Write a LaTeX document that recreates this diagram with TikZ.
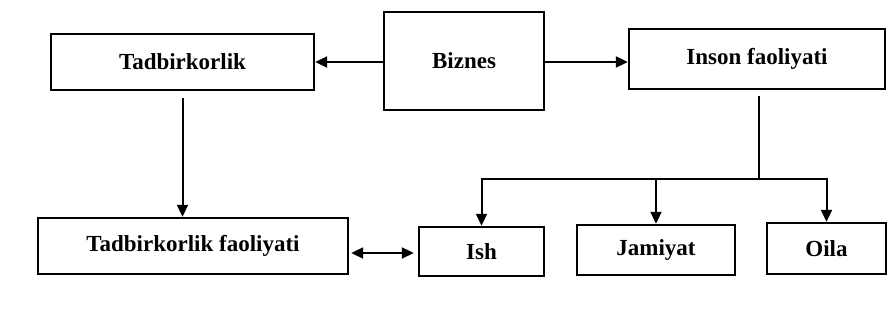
\documentclass[tikz,border=0pt]{standalone}
\usepackage{fontspec}
\setmainfont{Liberation Serif}
\usetikzlibrary{arrows.meta}
\tikzset{
  box/.style={draw=black, line width=2.4pt, fill=white, inner sep=0pt,
    font=\fontsize{23}{26}\selectfont\bfseries, text=black},
  conn/.style={line width=2pt, -{Triangle[length=12pt,width=11pt]}},
  dconn/.style={line width=2pt, {Triangle[length=12pt,width=11pt]}-{Triangle[length=12pt,width=11pt]}},
  plain/.style={line width=2pt}
}
\begin{document}
\begin{tikzpicture}[x=1pt,y=-1pt]
\useasboundingbox[fill=white] (0,0) rectangle (887,336);
\node[box, minimum width=263pt, minimum height=56pt] (tad) at (182.5,62) {Tadbirkorlik};
\node[box, minimum width=160pt, minimum height=98pt] (biz) at (464,61) {Biznes};
\node[box, minimum width=256pt, minimum height=60pt] (ins) at (757,59) {\raisebox{5pt}{Inson faoliyati}};
\node[box, minimum width=310pt, minimum height=56pt] (tf) at (193,246) {Tadbirkorlik faoliyati};
\node[box, minimum width=125pt, minimum height=49pt] (ish) at (481.5,251.5) {Ish};
\node[box, minimum width=158pt, minimum height=50pt] (jam) at (656,250) {Jamiyat};
\node[box, minimum width=119pt, minimum height=51pt] (oila) at (826.5,248.5) {Oila};
\coordinate (br) at (759,179);
\draw[conn] (biz.west |- tad.east) -- (tad.east);
\draw[conn] (biz.east |- 0,62) -- (ins.west |- 0,62);
\draw[conn, shorten <=7pt] (tad.south) -- (tad.south |- tf.north);
\draw[plain, shorten <=6pt] (ins.south -| br) -- (br);
\draw[conn] (br) -| (ish.north);
\draw[conn] (jam.north |- br) -- (jam.north);
\draw[conn] (br) -| (oila.north);
\draw[dconn, shorten <=2pt, shorten >=4pt] (tf.east |- 0,253) -- (ish.west |- 0,253);
\end{tikzpicture}
\end{document}
